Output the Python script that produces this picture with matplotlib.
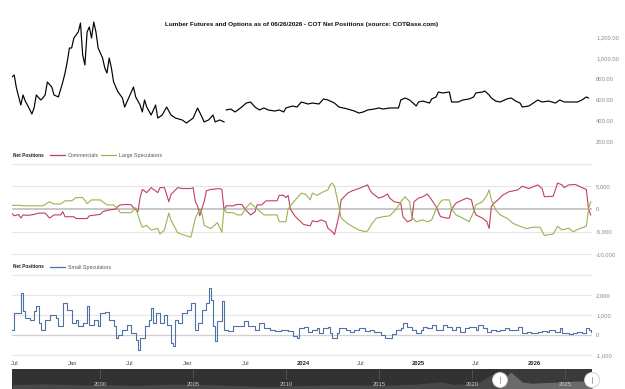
import numpy as np
import matplotlib
matplotlib.use("Agg")
import matplotlib.pyplot as plt
from matplotlib import font_manager
from matplotlib.patches import Circle

names = {f.name for f in font_manager.fontManager.ttflist}
FONT = "Liberation Sans Narrow" if "Liberation Sans Narrow" in names else "Liberation Sans"
plt.rcParams["font.family"] = [FONT, "DejaVu Sans"]

START = np.datetime64("2021-06-22")

# lumber price (weeks since START)
price_wk = [0, 1, 2, 4, 5, 6, 7, 8, 9, 10, 11, 13, 14, 15, 16, 18, 19, 21, 23, 24, 25, 26, 27, 28,
            30, 31, 32, 33, 34, 35, 36, 37, 38, 39, 41, 42, 43, 44, 45, 46, 48, 50, 51, 52, 54, 55,
            56, 58, 59, 60, 61, 63, 65, 66, 68, 70, 72, 74, 77, 79, 82, 84, 86, 87, 89, 91, 92, 94,
            96, 97, 99, 101, 104, 106, 108, 110, 112, 114, 116, 119, 121, 123, 124, 127, 129, 131,
            134, 136, 139, 141, 143, 146, 148, 150, 152, 155, 157, 159, 161, 164, 166, 168, 171,
            173, 175, 176, 178, 180, 183, 184, 186, 189, 190, 192, 193, 195, 198, 199, 200, 202,
            204, 207, 209, 210, 213, 214, 216, 217, 219, 221, 224, 226, 228, 230, 231, 234, 236,
            238, 240, 243, 246, 248, 250, 253, 256, 258, 260, 261]
price = [819, 838, 714, 552, 648, 590, 552, 510, 467, 524, 648, 600, 620, 648, 771, 724, 648, 629,
         771, 857, 962, 1095, 1095, 1190, 1248, 1333, 1029, 933, 1248, 1295, 1190, 1343, 1248, 1095,
         1000, 905, 857, 1000, 905, 771, 676, 619, 533, 581, 676, 724, 629, 552, 486, 600, 533, 457,
         552, 428, 457, 533, 457, 428, 410, 381, 428, 524, 438, 391, 410, 457, 391, 410, 391, 505,
         514, 486, 533, 571, 581, 533, 505, 524, 505, 495, 505, 486, 524, 543, 533, 581, 562, 571,
         562, 610, 600, 571, 533, 524, 514, 495, 476, 486, 505, 514, 524, 514, 524, 524, 524, 600,
         619, 600, 543, 581, 590, 571, 610, 629, 676, 667, 676, 581, 581, 581, 600, 610, 629, 667,
         676, 686, 648, 619, 590, 581, 610, 619, 590, 571, 533, 543, 571, 600, 581, 590, 571, 600,
         581, 581, 581, 600, 629, 619]
price_gap = 97  # first week after the hole in the price line

comm_wk = [0, 1, 3, 4, 5, 7, 10, 12, 15, 17, 19, 22, 23, 24, 28, 29, 34, 35, 38, 40, 41, 43, 47, 48,
           49, 52, 54, 55, 57, 58, 59, 61, 63, 66, 67, 69, 70, 71, 72, 75, 77, 81, 82, 83, 84, 85,
           86, 87, 88, 90, 94, 95, 96, 97, 100, 102, 104, 106, 108, 110, 111, 113, 115, 120, 121,
           123, 124, 125, 126, 128, 129, 132, 135, 136, 138, 140, 142, 143, 145, 146, 148, 149, 152,
           154, 157, 161, 162, 163, 166, 168, 170, 171, 173, 176, 177, 179, 181, 182, 184, 186, 188,
           190, 192, 194, 197, 198, 199, 201, 204, 206, 208, 209, 210, 213, 215, 216, 217, 218, 220,
           222, 225, 229, 231, 234, 238, 240, 241, 245, 247, 249, 250, 252, 255, 258, 260, 261, 262]
comm = [-1000, -1500, -1200, -2000, -1300, -1400, -1200, -900, -900, -2000, -1300, -1300, -600,
        -1700, -1700, -2100, -2100, -1500, -1300, -1200, -600, -300, 0, 600, 900, 1000, 900, 300,
        -600, 2500, 4300, 3600, 4700, 3600, 4700, 4700, 3200, 1600, 3200, 4700, 4500, 4500, 4700,
        1600, 700, -1500, 200, 1600, 4000, 4300, 4500, 4300, -200, 700, 700, 1000, 1000, -300,
        -1300, -600, 900, 900, 1800, 1800, 3000, 3000, 2500, 3000, 0, -1500, -2000, -3400, -3700,
        -2600, -2800, -2400, -2800, -4200, -5000, -5600, -1500, 2000, 3500, 4000, 4500, 5300, 4200,
        3500, 2400, 2700, 3300, 2400, 1600, 1300, -1700, -2800, -2400, 1600, 2400, 2700, 3300,
        2000, 500, -1700, -2000, -2000, 0, 1300, 2000, 2400, 2000, 0, -1300, -2000, -2800, -4300,
        500, 1200, 2000, 3000, 3800, 4200, 5000, 4500, 5300, 4500, 2700, 2800, 5700, 5300, 4700,
        5300, 5400, 4700, 4300, 0, -1300]

large_wk = [0, 4, 5, 14, 17, 19, 22, 24, 27, 29, 32, 34, 36, 40, 43, 46, 48, 49, 54, 56, 58, 59, 61,
            63, 66, 67, 69, 71, 72, 75, 77, 81, 83, 85, 86, 87, 90, 93, 95, 96, 97, 100, 102, 104,
            106, 108, 111, 114, 120, 121, 124, 125, 127, 129, 131, 133, 135, 136, 138, 141, 143,
            144, 145, 146, 148, 149, 152, 154, 157, 160, 161, 163, 165, 168, 171, 174, 176, 178,
            180, 181, 183, 186, 188, 190, 192, 194, 195, 198, 199, 201, 204, 207, 209, 210, 213,
            215, 216, 217, 219, 221, 224, 227, 230, 233, 236, 239, 241, 245, 247, 249, 252, 254,
            257, 260, 261, 262]
large = [800, 800, 700, 700, 1600, 1100, 1100, 1800, 1800, 2500, 2500, 1200, 2000, 2000, 900, 900,
         0, -800, -800, 300, -2800, -4000, -3600, -4600, -4300, -5500, -4600, -900, -2500, -5200,
         -5600, -6200, -2000, 0, -1000, -3600, -4300, -3000, -5100, 200, -800, -800, -1300, -1300,
         300, 1300, 0, -1300, -1300, -2800, -2800, 0, 1300, 2400, 3500, 3200, 2000, 3500, 3000,
         3800, 4200, 5300, 5700, 5000, 500, -2000, -3200, -3800, -4600, -5000, -4800, -3200, -2000,
         -1700, -1500, 0, 1600, 2700, 1600, -1700, -2800, -2400, -2800, -2400, 0, 1600, 2000, 2000,
         0, -1300, -2000, -2800, -600, 900, 1600, 3000, 4200, 2000, -200, -1300, -2000, -3200,
         -3800, -4300, -4000, -4000, -5800, -5500, -3800, -4600, -4200, -5000, -4300, -3800, 0, 1600]

small_wk = [0, 1, 3, 4, 5, 6, 8, 10, 11, 12, 13, 15, 17, 20, 21, 23, 25, 27, 29, 30, 32, 34, 35, 37,
            39, 40, 42, 44, 46, 47, 48, 50, 52, 54, 56, 57, 58, 60, 62, 63, 64, 65, 67, 69, 70, 72,
            73, 74, 75, 77, 79, 81, 83, 84, 86, 88, 89, 90, 91, 92, 93, 95, 96, 98, 100, 102, 105,
            107, 110, 112, 114, 117, 119, 122, 125, 127, 129, 130, 132, 134, 136, 138, 139, 141,
            143, 144, 145, 147, 148, 151, 153, 155, 157, 160, 162, 164, 167, 169, 171, 172, 174,
            176, 177, 179, 181, 183, 185, 186, 188, 190, 192, 195, 197, 199, 201, 203, 205, 207,
            210, 211, 213, 215, 217, 219, 221, 223, 225, 228, 229, 231, 233, 235, 238, 240, 242,
            243, 246, 248, 249, 252, 254, 256, 258, 260, 261, 262]
small = [283, 1117, 1117, 2117, 1200, 867, 783, 1200, 1450, 617, 283, 783, 1033, 867, 450, 1617,
         1283, 617, 783, 450, 617, 1450, 533, 783, 450, 1117, 1150, 783, 450, -133, 33, 283, 533,
         117, -217, -717, -133, 450, 783, 1367, 617, 1117, 617, 1033, 533, -383, -550, 783, 617,
         1117, 1283, 1617, 283, 617, 1283, 1617, 2367, 1783, 450, -300, 700, 1700, 283, 200, 450,
         450, 700, 450, 283, 617, 367, 283, 200, 283, 200, -50, -133, 350, 433, 183, 267, 350, 100,
         350, 433, 100, -150, 100, 350, 267, 183, 267, 350, 200, 267, 183, 17, -150, -150, 50, 267,
         350, 600, 433, 267, 100, 267, 433, 350, 517, 267, 517, 433, 267, 433, 183, 350, 433, 267,
         517, 350, 183, 267, 233, 267, 350, 267, 267, 433, 100, 183, 133, 183, 233, 183, 267, 183,
         350, 100, 67, 133, 183, 133, 350, 267, 183]

x_ticks = ["2021-07-01", "2022-01-01", "2022-07-01", "2023-01-01", "2023-07-01",
           "2024-01-01", "2024-07-01", "2025-01-01", "2025-07-01", "2026-01-01"]
x_labels = ["Jul", "Jan", "Jul", "Jan", "Jul", "2024", "Jul", "2025", "Jul", "2026"]

# navigator (whole history)
nav_years = [1995.3, 1997, 1999, 2000, 2002, 2004, 2006, 2008, 2009, 2011, 2013, 2015, 2017,
             2018.3, 2019, 2020.3, 2020.7, 2021.3, 2021.6, 2022.1, 2022.7, 2023.2, 2024, 2025,
             2025.6, 2026.45]
nav_price = [330, 400, 320, 340, 280, 380, 330, 230, 180, 270, 320, 280, 380, 560, 360, 450, 800,
             1350, 700, 1300, 550, 450, 500, 560, 620, 600]
nav_ticks = [2000, 2005, 2010, 2015, 2020, 2025]

RED = "#c0415f"
GREEN = "#9ab450"
BLUE = "#4f72a6"
GRID = "#e6e6e6"
LBL = "#8a8a8a"

W, H = 625, 389
fig = plt.figure(figsize=(6.25, 3.89), dpi=100)


def box(x0, y0, x1, y1):
    return [x0 / W, 1 - y1 / H, (x1 - x0) / W, (y1 - y0) / H]


def dates(wk):
    return START + np.asarray(wk) * np.timedelta64(7, "D")


xlim = (START, START + np.timedelta64(1838, "D"))


def style(ax):
    for s in ax.spines.values():
        s.set_visible(False)
    ax.set_xlim(*xlim)
    ax.yaxis.tick_right()
    ax.tick_params(axis="y", length=0, pad=3, labelsize=4.2, labelcolor=LBL)
    ax.tick_params(axis="x", length=0)
    ax.set_xticks([])
    ax.patch.set_alpha(0)


# price panel
ax_p = fig.add_axes(box(12, 15, 592, 148))
style(ax_p)
pd_ = dates(price_wk)
k = price_wk.index(price_gap)
ax_p.plot(pd_[:k], price[:k], color="black", lw=0.85)
ax_p.plot(pd_[k:], price[k:], color="black", lw=0.85)
ax_p.set_ylim(142.9, 1409.5)
pt = [200, 400, 600, 800, 1000, 1200]
ax_p.set_yticks(pt)
ax_p.set_yticklabels([f"{v:,.2f}" for v in pt])

# commercials / large speculators
ax_n = fig.add_axes(box(12, 160, 592, 258))
style(ax_n)
for v in [-10000, -5000, 5000, 10000]:
    ax_n.axhline(v, color=GRID, lw=0.8, zorder=0)
ax_n.axhline(0, color="#c4c4c4", lw=1.3, zorder=0)
ax_n.plot(dates(comm_wk), comm, color=RED, lw=0.8)
ax_n.plot(dates(large_wk), large, color=GREEN, lw=0.8)
ax_n.set_ylim(-10770, 10770)
nt = [-10000, -5000, 0, 5000]
ax_n.set_yticks(nt)
ax_n.set_yticklabels([f"{v:,}" for v in nt])

# small speculators
ax_s = fig.add_axes(box(12, 270, 592, 358))
style(ax_s)
for v in [-1000, 1000, 2000, 3000]:
    ax_s.axhline(v, color=GRID, lw=0.8, zorder=0)
ax_s.axhline(0, color="#d0d0d0", lw=0.9, zorder=0)
ax_s.plot(dates(small_wk), small, color=BLUE, lw=0.8, drawstyle="steps-post")
ax_s.set_ylim(-1135, 3265)
st = [-1000, 0, 1000, 2000]
ax_s.set_yticks(st)
ax_s.set_yticklabels([f"{v:,}" for v in st])
ax_s.set_xticks(np.array(x_ticks, dtype="datetime64[D]"))
ax_s.set_xticklabels(x_labels)
ax_s.tick_params(axis="x", length=0, pad=2, labelsize=4.2, labelcolor="#444")
for t in ax_s.get_xticklabels():
    if t.get_text().isdigit():
        t.set_fontweight("bold")
        t.set_color("#222")

# navigator
ax_v = fig.add_axes(box(12, 369, 592, 389))
ax_v.set_facecolor("#3a3a3a")
for s in ax_v.spines.values():
    s.set_visible(False)
ax_v.set_xlim(1995.27, 2026.45)
ax_v.set_ylim(0, 1)
ax_v.set_xticks([])
ax_v.set_yticks([])
ax_v.fill_between(nav_years, np.array(nav_price) / 1550, color="#6a6a6a", lw=0)
ax_v.axvspan(1995.27, 2021.5, color="#2c2c2c", alpha=0.55, lw=0)
ax_v.vlines(nav_ticks, 0.5, 1, color="#555555", lw=0.6)
for y in nav_ticks:
    ax_v.text(y, 0.25, str(y), ha="center", va="center", fontsize=4.2, color="#c8c8c8")

# overlay in pixel units for title, legends and handles
ax_o = fig.add_axes([0, 0, 1, 1])
ax_o.set_xlim(0, W)
ax_o.set_ylim(H, 0)
ax_o.axis("off")
ax_o.patch.set_alpha(0)

ax_o.text(302, 24, "Lumber Futures and Options as of 06/26/2026 - COT Net Positions (source: COTBase.com)",
          ha="center", va="center", fontsize=4.6, fontweight="bold", color="#111")


def legend(y, items):
    ax_o.text(13, y, "Net Positions", ha="left", va="center", fontsize=3.4, fontweight="bold", color="#222")
    for x0, col, lab in items:
        ax_o.plot([x0, x0 + 15], [y, y], color=col, lw=0.9)
        ax_o.text(x0 + 18, y, lab, ha="left", va="center", fontsize=3.8, color="#555")


legend(155, [(50, RED, "Commercials"), (101, GREEN, "Large Speculators")])
legend(267, [(50, BLUE, "Small Speculators")])

for hx in (500, 592):
    ax_o.add_patch(Circle((hx, 380), 7.5, facecolor="white", edgecolor="#cccccc", lw=0.6, zorder=5))
    ax_o.plot([hx, hx], [377, 383], color="#9a9a9a", lw=0.6, zorder=6)

fig.savefig("out.png", dpi=100)
